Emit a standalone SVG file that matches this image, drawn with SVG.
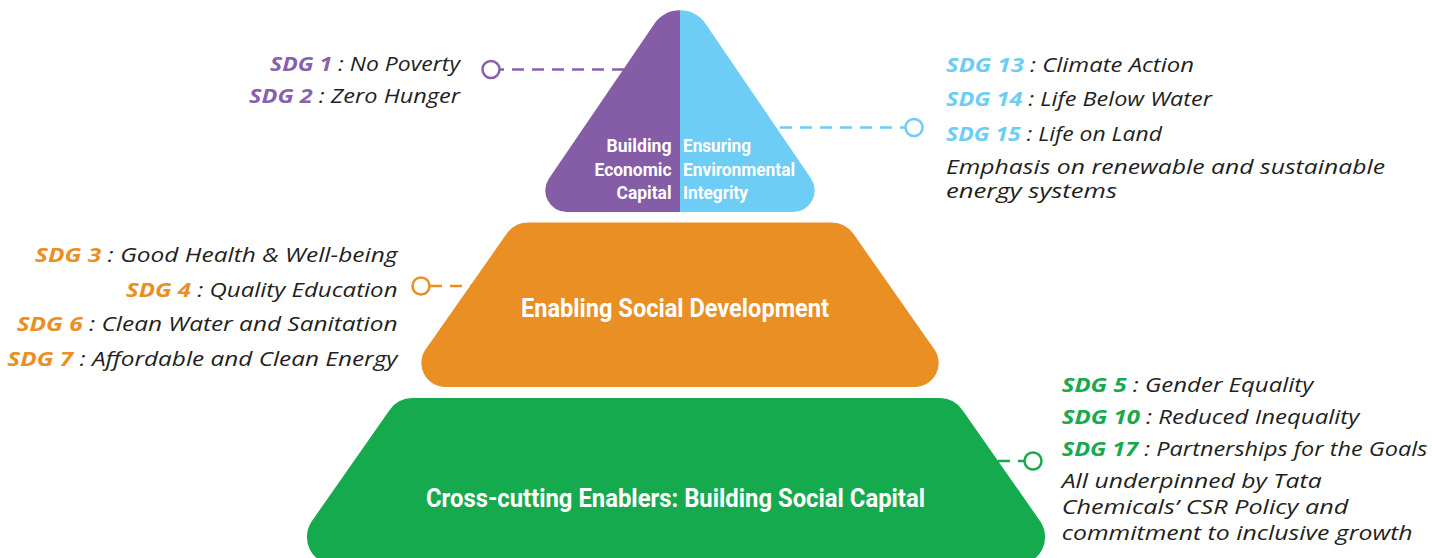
<svg xmlns="http://www.w3.org/2000/svg" width="1432" height="558" viewBox="0 0 1432 558">
  <defs>
    <style>
      .tier { font-family: Roboto, "Liberation Sans", sans-serif; font-weight: 700; fill: #ffffff; }
      .sdg { font-family: "Open Sans", "Liberation Sans", sans-serif; font-style: italic; font-size: 20px; fill: #231f20; }
      .sdg .k { font-weight: 700; }
      .purple { fill: #8a5fab; }
      .blue { fill: #6dcdf4; }
      .orange { fill: #e98f23; }
      .green { fill: #17a94d; }
      .link { fill: none; stroke-width: 2.5; stroke-dasharray: 12 8; }
      .dot { fill: #ffffff; stroke-width: 2.5; }
    </style>
    <!-- rounded triangle at the apex -->
    <path id="apex-shape" d="M 654.4,23.7 A 31 31 0 0 1 705.6,23.7 L 811,178.6 A 21.4 21.4 0 0 1 793.3,212 L 566.7,212 A 21.4 21.4 0 0 1 549,178.6 Z"/>
    <clipPath id="clip-left"><rect x="0" y="0" width="680" height="558"/></clipPath>
    <clipPath id="clip-right"><rect x="680" y="0" width="752" height="558"/></clipPath>
  </defs>

  <rect width="1432" height="558" fill="#ffffff"/>

  <!-- dashed leader lines with open end dots -->
  <g id="connectors">
    <line class="link" x1="624" y1="69.5" x2="500" y2="69.5" stroke="#8a5fab"/>
    <circle class="dot" cx="491" cy="69.5" r="8.5" stroke="#8a5fab"/>
    <line class="link" x1="780" y1="127.5" x2="905" y2="127.5" stroke="#6dcdf4"/>
    <circle class="dot" cx="914" cy="127.5" r="8.5" stroke="#6dcdf4"/>
    <line class="link" x1="430" y1="286" x2="471" y2="286" stroke="#e98f23"/>
    <circle class="dot" cx="421" cy="286" r="8.5" stroke="#e98f23"/>
    <line class="link" x1="998" y1="461" x2="1024" y2="461" stroke="#17a94d"/>
    <circle class="dot" cx="1033" cy="461" r="8.5" stroke="#17a94d"/>
  </g>

  <!-- apex, left half -->
  <g id="economic-capital">
    <use href="#apex-shape" fill="#855ca6" clip-path="url(#clip-left)"/>
    <g class="tier" font-size="17.5" text-anchor="end">
      <text x="671.5" y="151.5" textLength="65" lengthAdjust="spacingAndGlyphs">Building</text>
      <text x="671.5" y="175.5" textLength="77" lengthAdjust="spacingAndGlyphs">Economic</text>
      <text x="671.5" y="199" textLength="55" lengthAdjust="spacingAndGlyphs">Capital</text>
    </g>
    <g class="sdg" text-anchor="end">
      <text x="460" y="70.5" textLength="190" lengthAdjust="spacingAndGlyphs"><tspan class="k purple">SDG 1</tspan> : No Poverty</text>
      <text x="460" y="103" textLength="211" lengthAdjust="spacingAndGlyphs"><tspan class="k purple">SDG 2</tspan> : Zero Hunger</text>
    </g>
  </g>

  <!-- apex, right half -->
  <g id="environmental-integrity">
    <use href="#apex-shape" fill="#6dcdf4" clip-path="url(#clip-right)"/>
    <g class="tier" font-size="17.5">
      <text x="683" y="151.5" textLength="68" lengthAdjust="spacingAndGlyphs">Ensuring</text>
      <text x="683" y="175.5" textLength="112" lengthAdjust="spacingAndGlyphs">Environmental</text>
      <text x="683" y="199" textLength="65" lengthAdjust="spacingAndGlyphs">Integrity</text>
    </g>
    <g class="sdg">
      <text x="946" y="71.5" textLength="248" lengthAdjust="spacingAndGlyphs"><tspan class="k blue">SDG 13</tspan> : Climate Action</text>
      <text x="946" y="106" textLength="266" lengthAdjust="spacingAndGlyphs"><tspan class="k blue">SDG 14</tspan> : Life Below Water</text>
      <text x="946" y="140.5" textLength="216" lengthAdjust="spacingAndGlyphs"><tspan class="k blue">SDG 15</tspan> : Life on Land</text>
      <text x="946" y="173.5" textLength="439" lengthAdjust="spacingAndGlyphs">Emphasis on renewable and sustainable</text>
      <text x="946" y="198" textLength="171" lengthAdjust="spacingAndGlyphs">energy systems</text>
    </g>
  </g>

  <!-- middle tier -->
  <g id="social-development">
    <path d="M 528.6,222.5 L 831.4,222.5 A 27 27 0 0 1 853.6,234.1 L 934.3,349.2 A 24 24 0 0 1 914.6,387 L 445.4,387 A 24 24 0 0 1 425.7,349.2 L 506.4,234.1 A 27 27 0 0 1 528.6,222.5 Z" fill="#e98f23"/>
    <text class="tier" x="521" y="316.5" font-size="25.5" textLength="308" lengthAdjust="spacingAndGlyphs">Enabling Social Development</text>
    <g class="sdg" text-anchor="end">
      <text x="397.5" y="262.3" textLength="362.5" lengthAdjust="spacingAndGlyphs"><tspan class="k orange">SDG 3</tspan> : Good Health &amp; Well-being</text>
      <text x="397.5" y="296.7" textLength="271.5" lengthAdjust="spacingAndGlyphs"><tspan class="k orange">SDG 4</tspan> : Quality Education</text>
      <text x="397.5" y="331" textLength="380.8" lengthAdjust="spacingAndGlyphs"><tspan class="k orange">SDG 6</tspan> : Clean Water and Sanitation</text>
      <text x="397.5" y="365.7" textLength="390.2" lengthAdjust="spacingAndGlyphs"><tspan class="k orange">SDG 7</tspan> : Affordable and Clean Energy</text>
    </g>
  </g>

  <!-- base tier -->
  <g id="social-capital">
    <path d="M 412.6,398 L 939.4,398 A 28 28 0 0 1 962.4,410 L 1040,520.9 A 28 28 0 0 1 1017.1,565 L 334.9,565 A 28 28 0 0 1 312,520.9 L 389.6,410 A 28 28 0 0 1 412.6,398 Z" fill="#16aa4e"/>
    <text class="tier" x="426" y="507.3" font-size="25.5" textLength="499" lengthAdjust="spacingAndGlyphs">Cross-cutting Enablers: Building Social Capital</text>
    <g class="sdg">
      <text x="1061.7" y="391.7" textLength="251.6" lengthAdjust="spacingAndGlyphs"><tspan class="k green">SDG 5</tspan> : Gender Equality</text>
      <text x="1061.7" y="424.3" textLength="297.6" lengthAdjust="spacingAndGlyphs"><tspan class="k green">SDG 10</tspan> : Reduced Inequality</text>
      <text x="1061.7" y="455.7" textLength="365.6" lengthAdjust="spacingAndGlyphs"><tspan class="k green">SDG 17</tspan> : Partnerships for the Goals</text>
      <text x="1061.7" y="488.3" textLength="260" lengthAdjust="spacingAndGlyphs">All underpinned by Tata</text>
      <text x="1061.7" y="514.3" textLength="286.6" lengthAdjust="spacingAndGlyphs">Chemicals’ CSR Policy and</text>
      <text x="1061.7" y="540" textLength="351" lengthAdjust="spacingAndGlyphs">commitment to inclusive growth</text>
    </g>
  </g>
</svg>
